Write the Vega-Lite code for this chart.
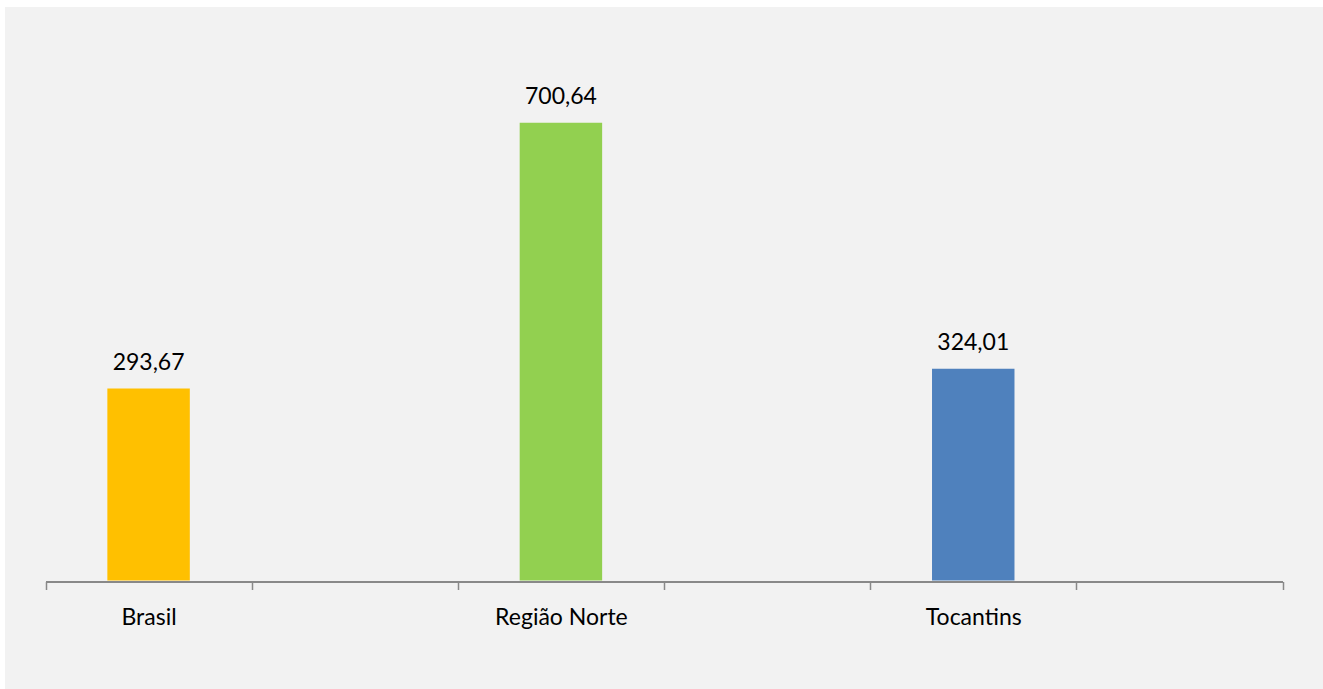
{
  "$schema": "https://vega.github.io/schema/vega-lite/v6.json",
  "width": 1318,
  "height": 682,
  "autosize": {"type": "none"},
  "padding": {"left": 5, "top": 7, "right": 0, "bottom": 0},
  "background": "#FFFFFF",
  "config": {
    "view": {"fill": "#F2F2F2", "stroke": null},
    "locale": {"number": {"decimal": ",", "thousands": ".", "grouping": [3], "currency": ["R$", ""]}},
    "font": "Lato"
  },
  "data": {
    "values": [
      {"local": "Brasil", "valor": 293.67},
      {"local": "Região Norte", "valor": 700.64},
      {"local": "Tocantins", "valor": 324.01}
    ]
  },
  "encoding": {
    "x": {
      "field": "local",
      "type": "nominal",
      "sort": null,
      "scale": {
        "domain": ["Brasil", " ", "Região Norte", "  ", "Tocantins", "   "],
        "range": [40.5, 1277.5],
        "paddingInner": 0,
        "paddingOuter": 0
      },
      "axis": {
        "title": null,
        "orient": "bottom",
        "offset": -107.5,
        "labelAngle": 0,
        "labelFont": "Lato",
        "labelFontSize": 23,
        "labelColor": "#000000",
        "labelBaseline": "alphabetic",
        "labelPadding": 34.8,
        "tickBand": "extent",
        "tickSize": 8,
        "tickWidth": 1.5,
        "tickColor": "#898989",
        "domainColor": "#898989",
        "domainWidth": 2,
        "grid": false
      }
    },
    "y": {
      "field": "valor",
      "type": "quantitative",
      "scale": {"domain": [0, 800], "range": [573.5, 50.7], "nice": false},
      "axis": null
    }
  },
  "layer": [
    {
      "mark": {"type": "bar", "width": {"band": 0.4}},
      "encoding": {
        "color": {
          "field": "local",
          "type": "nominal",
          "scale": {
            "domain": ["Brasil", "Região Norte", "Tocantins"],
            "range": ["#FFC000", "#92D050", "#4F81BD"]
          },
          "legend": null
        }
      }
    },
    {
      "mark": {"type": "text", "baseline": "alphabetic", "dy": -19, "font": "Lato", "fontSize": 23, "color": "#000000"},
      "encoding": {
        "text": {"field": "valor", "type": "quantitative", "format": ".2f"}
      }
    }
  ]
}
